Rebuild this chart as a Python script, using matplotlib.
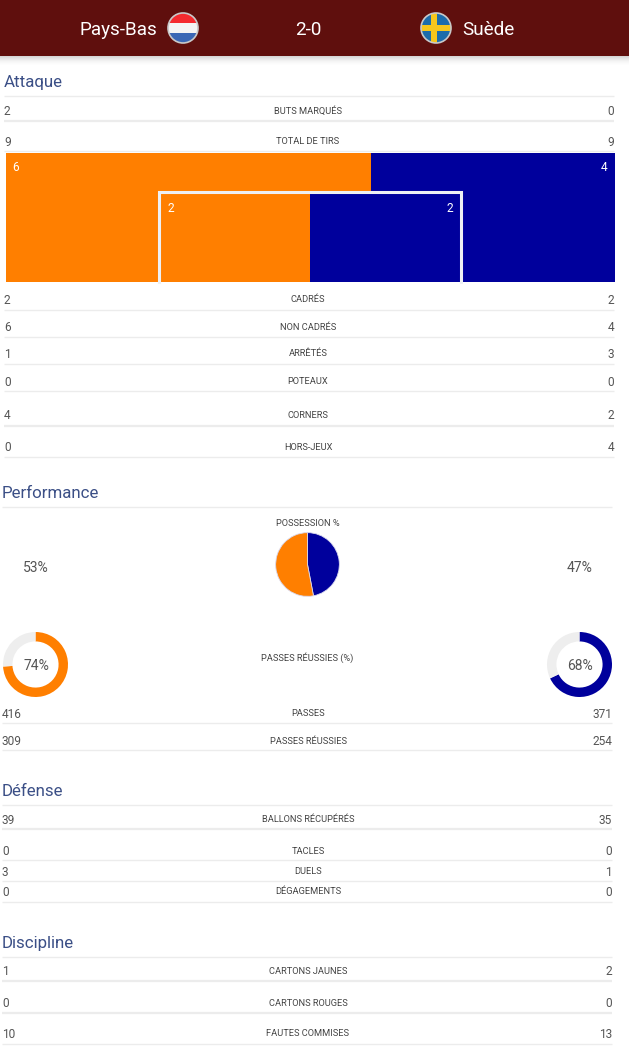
import matplotlib
matplotlib.use('Agg')
import matplotlib.pyplot as plt
from matplotlib.patches import Circle, Rectangle

# stats, one list per section
attaque_labels = ['BUTS MARQUÉS', 'TOTAL DE TIRS', 'CADRÉS', 'NON CADRÉS', 'ARRÊTÉS', 'POTEAUX', 'CORNERS', 'HORS-JEUX']
attaque_home = [2, 9, 2, 6, 1, 0, 4, 0]
attaque_away = [0, 9, 2, 4, 3, 0, 2, 4]

passes_labels = ['PASSES', 'PASSES RÉUSSIES']
passes_home = [416, 309]
passes_away = [371, 254]

defense_labels = ['BALLONS RÉCUPÉRÉS', 'TACLES', 'DUELS', 'DÉGAGEMENTS']
defense_home = [39, 0, 3, 0]
defense_away = [35, 0, 1, 0]

discipline_labels = ['CARTONS JAUNES', 'CARTONS ROUGES', 'FAUTES COMMISES']
discipline_home = [1, 0, 10]
discipline_away = [2, 0, 13]

off_target = [6, 4]
on_target = [2, 2]
possession = [53, 47]
pass_accuracy = [74, 68]

ORANGE = '#ff7f00'
BLUE = '#00009c'
GREY = '#555555'
LABEL = '#444444'
TITLE = '#3b4f86'
LINE = '#ececec'
W, H = 629, 1063

plt.rcParams['font.family'] = ['Roboto', 'DejaVu Sans']

fig = plt.figure(figsize=(W / 100, H / 100), dpi=100)
ax = fig.add_axes([0, 0, 1, 1])
ax.set_xlim(0, W)
ax.set_ylim(H, 0)
ax.axis('off')


def sub_axes(x0, y0, x1, y1):
    return fig.add_axes([x0 / W, 1 - y1 / H, (x1 - x0) / W, (y1 - y0) / H])


def hline(y, x0, x1, lw=1.0):
    ax.plot([x0, x1], [y, y], color=LINE, lw=lw, solid_capstyle='butt')


def rows(labels, home, away, ys, lines, x0, x1):
    for label, a, b, y, ln in zip(labels, home, away, ys, lines):
        ax.text(x0, y, str(a), color=GREY, fontsize=8.6, ha='left', va='center_baseline')
        ax.text(x1, y, str(b), color=GREY, fontsize=8.6, ha='right', va='center_baseline')
        ax.text(308, y, label, color=LABEL, fontsize=6.7, ha='center', va='center_baseline')
        hline(ln, x0, x1, lw=1.6 if ln in (121, 426, 829, 981, 1013) else 1.0)


def flag_circle(cx, cy, r):
    return Circle((cx, cy), r, transform=ax.transData)


def split_bar(box, values):
    b = sub_axes(*box)
    b.barh([0], [values[0]], height=1, color=ORANGE)
    b.barh([0], [values[1]], left=values[0], height=1, color=BLUE)
    b.set_xlim(0, sum(values))
    b.set_ylim(-0.5, 0.5)
    b.axis('off')


# header band
ax.add_patch(Rectangle((0, 0), W, 56, color='#5f0f0d', lw=0))
for i in range(10):
    ax.add_patch(Rectangle((0, 56 + i), W, 1, color='black', alpha=0.16 * (1 - i / 10) ** 2, lw=0))
ax.text(157, 28, 'Pays-Bas', color='white', fontsize=13.6, ha='right', va='center_baseline')
ax.text(308.5, 28, '2-0', color='white', fontsize=13.6, ha='center', va='center_baseline')
ax.text(462, 28, 'Suède', color='white', fontsize=13.6, ha='left', va='center_baseline')

# Netherlands flag
clip = flag_circle(183, 28, 15)
for y, c in zip([13, 23, 33], ['#f42a2f', '#f4f4f4', '#3a67b5']):
    p = Rectangle((168, y), 30, 10, color=c, lw=0)
    ax.add_patch(p)
    p.set_clip_path(clip)
ax.add_patch(Circle((183, 28), 15, fill=False, ec='#c9c9c9', lw=1.2))

# Sweden flag
clip = flag_circle(436, 28, 15)
for xy, w, h, c in [((421, 13), 30, 30, '#1c6cab'), ((431, 13), 6, 30, '#f6c61c'), ((421, 25), 30, 6, '#f6c61c')]:
    p = Rectangle(xy, w, h, color=c, lw=0)
    ax.add_patch(p)
    p.set_clip_path(clip)
ax.add_patch(Circle((436, 28), 15, fill=False, ec='#c9c9c9', lw=1.2))

# section titles
for title, x, y, ln, x1 in [('Attaque', 4, 81, 96, 614), ('Performance', 2, 492, 507, 612),
                            ('Défense', 2, 790, 805, 612), ('Discipline', 2, 942, 957, 612)]:
    ax.text(x, y, title, color=TITLE, fontsize=12.2, ha='left', va='center_baseline')
    hline(ln, x, x1)

rows(attaque_labels, attaque_home, attaque_away,
     [110, 141, 299, 326, 353, 381, 414, 446],
     [121, 151, 310, 337, 364, 391, 426, 457], 4, 614)
rows(passes_labels, passes_home, passes_away, [713, 740], [723, 750], 2, 612)
rows(defense_labels, defense_home, defense_away, [819, 850, 871, 891], [829, 860, 881, 902], 2, 612)
rows(discipline_labels, discipline_home, discipline_away, [970, 1002, 1033], [981, 1013, 1044], 2, 612)

# shot map
split_bar((5.5, 153, 614.5, 282), off_target)
split_bar((159.5, 193, 460.5, 282), on_target)
ax.set_zorder(3)
ax.patch.set_alpha(0)
ax.plot([159, 159, 461, 461], [282, 192, 192, 282], color='#eef0f4', lw=2.2, solid_joinstyle='miter')

ax.text(12, 166, str(off_target[0]), color='white', fontsize=8.6, ha='left', va='center_baseline')
ax.text(607, 166, str(off_target[1]), color='white', fontsize=8.6, ha='right', va='center_baseline')
ax.text(167, 207, str(on_target[0]), color='white', fontsize=8.6, ha='left', va='center_baseline')
ax.text(453, 207, str(on_target[1]), color='white', fontsize=8.6, ha='right', va='center_baseline')

# possession
ax.text(308, 522, 'POSSESSION %', color=LABEL, fontsize=6.7, ha='center', va='center_baseline')
pie_ax = sub_axes(275, 532, 340, 597)
pie_ax.pie(possession[::-1], colors=[BLUE, ORANGE], startangle=90, counterclock=False, radius=0.98,
           wedgeprops=dict(lw=0.6, edgecolor='#d8d8ee'))
pie_ax.set_xlim(-1, 1)
pie_ax.set_ylim(-1, 1)
ax.text(36, 567, '%d%%' % possession[0], color=GREY, fontsize=10, ha='center', va='center_baseline')
ax.text(580, 567, '%d%%' % possession[1], color=GREY, fontsize=10, ha='center', va='center_baseline')

# pass accuracy
ax.text(307.5, 657, 'PASSES RÉUSSIES (%)', color=LABEL, fontsize=6.7, ha='center', va='center_baseline')
for pct, color, x0 in zip(pass_accuracy, [ORANGE, BLUE], [3, 547]):
    d = sub_axes(x0, 632, x0 + 65, 697)
    d.pie([pct, 100 - pct], colors=[color, '#eeeeee'], startangle=90, counterclock=False, radius=1.0,
          wedgeprops=dict(width=0.29))
    d.set_xlim(-1, 1)
    d.set_ylim(-1, 1)
    ax.text(x0 + 33, 664, '%d%%' % pct, color=GREY, fontsize=10, ha='center', va='center_baseline')

fig.savefig('out.png', dpi=100)
